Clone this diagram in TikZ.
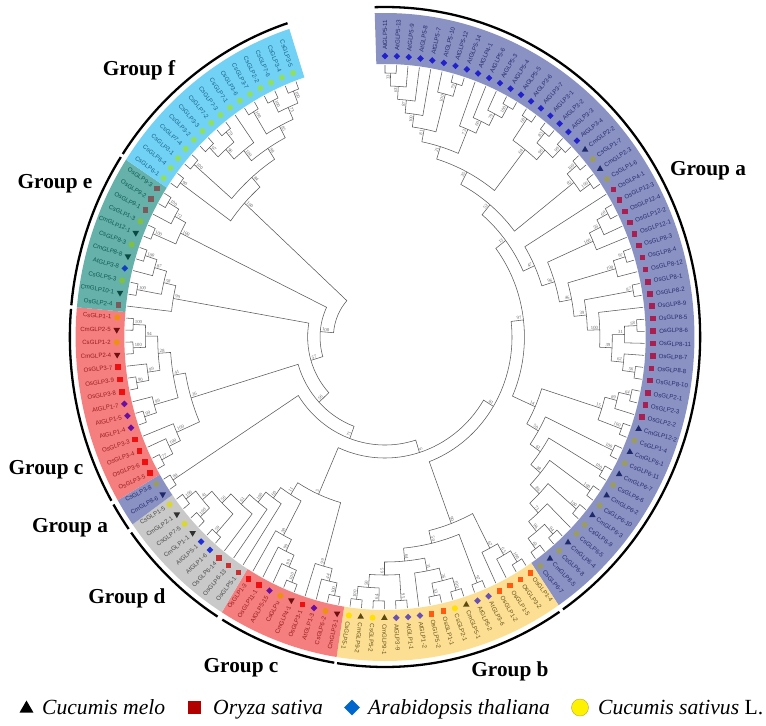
\documentclass[tikz,border=0pt]{standalone}
\usepackage{fontspec}
\setmainfont{Liberation Serif}
\newfontfamily\tipfont{Liberation Sans}
\usetikzlibrary{shapes.geometric}
\definecolor{aBand}{HTML}{8A92C4}
\definecolor{bBand}{HTML}{FDDF94}
\definecolor{cBand}{HTML}{F57F7F}
\definecolor{dBand}{HTML}{C9C9C9}
\definecolor{eBand}{HTML}{66B1A9}
\definecolor{fBand}{HTML}{72D2F6}
\definecolor{aAt}{HTML}{2222CC}
\definecolor{aCm}{HTML}{1E2A6C}
\definecolor{aCs}{HTML}{9A9C62}
\definecolor{aOs}{HTML}{A82052}
\definecolor{bAt}{HTML}{6A50B0}
\definecolor{bCm}{HTML}{5C4A10}
\definecolor{bCs}{HTML}{FFE000}
\definecolor{bOs}{HTML}{FF5A10}
\definecolor{cAt}{HTML}{6A10A0}
\definecolor{cCm}{HTML}{701010}
\definecolor{cCs}{HTML}{F09010}
\definecolor{cOs}{HTML}{EE1010}
\definecolor{dAt}{HTML}{2030D8}
\definecolor{dCm}{HTML}{303030}
\definecolor{dCs}{HTML}{D8D830}
\definecolor{dOs}{HTML}{C83030}
\definecolor{eAt}{HTML}{1040C0}
\definecolor{eCm}{HTML}{0A4A45}
\definecolor{eCs}{HTML}{80C040}
\definecolor{eOs}{HTML}{7A5A5A}
\definecolor{fCs}{HTML}{90E060}
\definecolor{aTx}{HTML}{262B6A}
\definecolor{bTx}{HTML}{66551C}
\definecolor{cTx}{HTML}{9A1C1C}
\definecolor{dTx}{HTML}{4A4A4A}
\definecolor{eTx}{HTML}{0C5A53}
\definecolor{fTx}{HTML}{166488}
\tikzstyle{branch}=[draw=black!65,line width=0.55pt]
\tikzstyle{boot}=[inner sep=0.6pt,text=black!60,font=\fontsize{4.7}{5}\selectfont]
\tikzstyle{tiptext}=[inner sep=0pt,font=\tipfont\fontsize{6.1}{7}\selectfont]
\tikzstyle{tipOs}=[rectangle,inner sep=0pt,minimum size=5.6pt]
\tikzstyle{tipAt}=[diamond,inner sep=0pt,minimum size=6.8pt]
\tikzstyle{tipCm}=[regular polygon,regular polygon sides=3,inner sep=0pt,minimum size=7.6pt]
\tikzstyle{tipCs}=[circle,inner sep=0pt,minimum size=6pt]
\tikzstyle{grouplabel}=[inner sep=0pt,anchor=base,font=\bfseries\fontsize{21.3}{24}\selectfont]
\tikzstyle{legendtext}=[inner sep=0pt,anchor=base west,font=\itshape\fontsize{21.6}{24}\selectfont]
\newcount\tipno
\def\spread{2.537}
\newcommand{\clade}[5]{%
    \edef\angA{\csname ang#3\endcsname}%
    \edef\angB{\csname ang#4\endcsname}%
    \pgfmathsetmacro{\angM}{(\angA+\angB)/2}%
    \expandafter\xdef\csname ang#1\endcsname{\angM}%
    \coordinate (#1) at (\angM:#2);
    \draw[branch] (#3) -- (\angA:#2) arc[start angle=\angA,end angle=\angB,radius=#2] -- (#4);
    \ifdim\angM pt>-90pt
        \node[boot,rotate=\angM,anchor=south east] (b#1) at (\angM:#2-1) {#5};
    \else
        \pgfmathsetmacro{\rotM}{\angM+180}%
        \node[boot,rotate=\rotM,anchor=south west] (b#1) at (\angM:#2-1) {#5};
    \fi
}
\begin{document}
\begin{tikzpicture}[x=0.955pt,y=1pt]
    \begin{scope}[x=1pt,y=-1pt,shift={(-385,-333.5)}]
        \path[use as bounding box] (0,0) rectangle (766,722);
    \end{scope}
    \foreach \from/\upto/\col in {-0.75/57.5/aBand, 57.5/74.5/bBand, 74.5/83.5/cBand, 83.5/92.5/dBand, 92.5/94.5/aBand, 94.5/108.5/cBand, 108.5/119.5/eBand, 119.5/134.8/fBand} {
        \pgfmathsetmacro{\angS}{90-\spread*\from}
        \pgfmathsetmacro{\angE}{90-\spread*\upto}
        \fill[\col] (\angS:273) arc[start angle=\angS,end angle=\angE,radius=273] -- (\angE:324) arc[start angle=\angE,end angle=\angS,radius=324] -- cycle;
    }
    \foreach \from/\upto in {-0.75/57.4, 57.7/74.4, 74.6/83.2, 83.6/92.1, 92.4/94.4, 94.7/108.35, 108.6/119.45, 119.7/134.8} {
        \pgfmathsetmacro{\angS}{90-\spread*\from}
        \pgfmathsetmacro{\angE}{90-\spread*\upto}
        \draw[line width=2.3pt] (\angS:330) arc[start angle=\angS,end angle=\angE,radius=330];
    }
    \foreach \grp/\items in {
        a/{AtGLP5-11/At,AtGLP5-13/At,AtGLP5-9/At,AtGLP5-8/At,AtGLP5-7/At,AtGLP5-10/At,AtGLP5-12/At,AtGLP5-14/At,AtGLP4-1/At,AtGLP5-6/At,AtGLP5-3/At,AtGLP5-4/At,AtGLP5-5/At,AtGLP3-6/At,AtGLP3-7/At,AtGLP3-1/At,AtGLP3-2/At,AtGLP3-3/At,AtGLP3-4/At,CmGLP2-2/Cm,CsGLP1-7/Cs,CmGLP2-3/Cm,CsGLP1-6/Cs,OsGLP4-1/Os,OsGLP12-3/Os,OsGLP12-4/Os,OsGLP12-2/Os,OsGLP12-1/Os,OsGLP8-3/Os,OsGLP8-4/Os,OsGLP8-12/Os,OsGLP8-1/Os,OsGLP8-2/Os,OsGLP8-9/Os,OsGLP8-5/Os,OsGLP8-6/Os,OsGLP8-11/Os,OsGLP8-7/Os,OsGLP8-8/Os,OsGLP8-10/Os,OsGLP2-1/Os,OsGLP2-3/Os,OsGLP2-2/Os,CmGLP12-2/Cm,CsGLP1-4/Cs,CmGLP6-1/Cm,CsGLP6-11/Cs,CmGLP6-7/Cm,CsGLP6-6/Cs,CmGLP6-2/Cm,CsGLP6-10/Cs,CmGLP6-3/Cm,CsGLP6-9/Cs,CsGLP6-5/Cs,CmGLP6-4/Cm,CsGLP6-8/Cs,CmGLP8-5/Cm,CsGLP6-7/Cs},
        b/{OsGLP1-4/Os,OsGLP3-2/Os,OsGLP1-5/Os,OsGLP1-2/Os,AtGLP3-6/At,AtGLP5-2/At,CmGLP5-1/Cm,CsGLP2-1/Cs,OsGLP1-1/Os,OsGLP5-2/Os,AtGLP1-2/At,AtGLP1-1/At,AtGLP3-9/At,CmGLP9-1/Cm,CsGLP5-2/Cs,CmGLP9-2/Cm,CsGLP5-1/Cs},
        c/{CmGLP3-1/Cm,CsGLP6-2/Cs,AtGLP1-3/At,OsGLP3-1/Os,CmGLP4-1/Cm,CsGLPu/Cs,AtGLP5-15/At,OsGLP11-1/Os,OsGLP1-3/Os},
        d/{OsGLP5-1/Os,OsGLP6-13/Os,OsGLP6-14/Os,AtGLP1-6/At,AtGLP5-1/At,CmGLP1-1/Cm,CsGLP7-5/Cs,CmGLP2-1/Cm,CsGLP1-5/Cs},
        a/{CmGLP8-6/Cm,CsGLP3-8/Cs},
        c/{OsGLP3-5/Os,OsGLP3-6/Os,OsGLP3-4/Os,OsGLP3-3/Os,AtGLP1-4/At,AtGLP1-5/At,AtGLP1-7/At,OsGLP3-8/Os,OsGLP3-9/Os,OsGLP3-7/Os,CmGLP2-4/Cm,CsGLP1-2/Cs,CmGLP2-5/Cm,CsGLP1-1/Cs},
        e/{OsGLP2-4/Os,CmGLP10-1/Cm,CsGLP5-3/Cs,AtGLP3-8/At,CmGLP8-8/Cm,CsGLP8-3/Cs,CmGLP12-1/Cm,CsGLP1-3/Cs,OsGLP9-1/Os,OsGLP9-2/Os,OsGLP9-3/Os},
        f/{CsGLP6-1/Cs,CsGLP6-4/Cs,CsGLP3-1/Cs,CsGLP7-4/Cs,CsGLP3-2/Cs,CsGLP3-3/Cs,CsGLP7-2/Cs,CsGLP7-3/Cs,CsGLP7-1/Cs,CsGLP3-6/Cs,CsGLP3-7/Cs,CsGLP2-2/Cs,CsGLP7-6/Cs,CsGLP3-4/Cs,CsGLP3-5/Cs}} {
        \foreach \txt/\kind in \items {
            \pgfmathsetmacro{\angT}{90-\spread*\the\tipno}
            \expandafter\xdef\csname angl\the\tipno\endcsname{\angT}
            \coordinate (l\the\tipno) at (\angT:272);
            \ifnum\tipno<108 \def\tilt{0.82}\else \def\tilt{1.08}\fi
            \pgfmathsetmacro{\rot}{atan2(\tilt*sin(\angT),cos(\angT))}
            \ifnum\tipno<75
                \def\turn{0}\def\side{west}
            \else
                \def\turn{180}\pgfmathsetmacro{\rot}{\rot+180}\def\side{east}
            \fi
            \node[tip\kind,fill=\grp\kind,shape border rotate=\turn] (mk\the\tipno) at (\angT:281) {};
            \node[tiptext,text=\grp Tx,rotate=\rot,anchor=\side] (lab\the\tipno) at (\angT:287) {\txt};
            \global\advance\tipno by 1
        }
    }
    \clade{p1}{264}{l0}{l1}{33}
    \clade{p2}{251}{p1}{l2}{63}
    \clade{p3}{238}{p2}{l3}{87}
    \clade{p4}{225}{p3}{l4}{100}
    \clade{p5}{264}{l6}{l7}{79}
    \clade{p6}{251}{l5}{p5}{100}
    \clade{p7}{212}{p4}{p6}{81}
    \clade{p8}{264}{l11}{l12}{100}
    \clade{p9}{251}{l10}{p8}{79}
    \clade{p10}{238}{l9}{p9}{60}
    \clade{p11}{225}{l8}{p10}{73}
    \clade{p12}{199}{p7}{p11}{21}
    \clade{p13}{264}{l13}{l14}{68}
    \clade{p14}{264}{l15}{l16}{83}
    \clade{p15}{264}{l17}{l18}{99}
    \clade{p16}{251}{p14}{p15}{96}
    \clade{p17}{238}{p13}{p16}{64}
    \clade{p18}{186}{p12}{p17}{35}
    \clade{q1}{264}{l19}{l20}{100}
    \clade{q2}{264}{l21}{l22}{100}
    \clade{q3}{251}{q1}{q2}{82}
    \clade{q4}{172}{p18}{q3}{52}
    \clade{r1}{264}{l24}{l25}{60}
    \clade{r2}{251}{r1}{l26}{56}
    \clade{r3}{238}{r2}{l27}{100}
    \clade{r4}{264}{l28}{l29}{97}
    \clade{r5}{251}{r4}{l30}{100}
    \clade{r6}{264}{l31}{l32}{87}
    \clade{r7}{264}{l34}{l35}{58}
    \clade{r8}{251}{r7}{l36}{31}
    \clade{r9}{264}{l38}{l39}{56}
    \clade{r10}{251}{l37}{r9}{62}
    \clade{r11}{238}{r8}{r10}{39}
    \clade{r12}{225}{l33}{r11}{100}
    \clade{r13}{212}{r6}{r12}{39}
    \clade{r14}{199}{r5}{r13}{46}
    \clade{r15}{186}{r3}{r14}{96}
    \clade{r16}{172}{l23}{r15}{47}
    \clade{r17}{159}{q4}{r16}{13}
    \clade{s1}{264}{l40}{l41}{64}
    \clade{s2}{251}{s1}{l42}{89}
    \clade{s3}{264}{l43}{l44}{100}
    \clade{s4}{238}{s2}{s3}{15}
    \clade{s5}{264}{l45}{l46}{100}
    \clade{s6}{264}{l47}{l48}{100}
    \clade{s7}{264}{l49}{l50}{100}
    \clade{s8}{264}{l51}{l52}{100}
    \clade{s9}{264}{l54}{l55}{94}
    \clade{s10}{264}{l56}{l57}{63}
    \clade{s11}{251}{s9}{s10}{96}
    \clade{s12}{238}{l53}{s11}{71}
    \clade{s13}{225}{s8}{s12}{86}
    \clade{s14}{212}{s7}{s13}{38}
    \clade{s15}{199}{s6}{s14}{61}
    \clade{s16}{186}{s5}{s15}{50}
    \clade{s17}{172}{s4}{s16}{14}
    \clade{t1}{146}{r17}{s17}{97}
    \clade{u1}{264}{l58}{l59}{100}
    \clade{u2}{251}{l60}{u1}{65}
    \clade{u3}{238}{l61}{u2}{67}
    \clade{u4}{264}{l62}{l63}{97}
    \clade{u5}{264}{l64}{l65}{100}
    \clade{u6}{264}{l66}{l67}{53}
    \clade{u7}{251}{u5}{u6}{26}
    \clade{u8}{238}{u7}{l68}{31}
    \clade{u9}{264}{l69}{l70}{95}
    \clade{u10}{264}{l71}{l72}{64}
    \clade{u11}{264}{l73}{l74}{100}
    \clade{u12}{251}{u10}{u11}{50}
    \clade{u13}{238}{u9}{u12}{65}
    \clade{u14}{225}{u8}{u13}{64}
    \clade{u15}{212}{u4}{u14}{50}
    \clade{u16}{199}{u3}{u15}{90}
    \clade{t2}{133}{t1}{u16}{81}
    \clade{v1}{264}{l75}{l76}{100}
    \clade{v2}{251}{v1}{l77}{44}
    \clade{v3}{238}{v2}{l78}{99}
    \clade{v4}{264}{l79}{l80}{100}
    \clade{v5}{251}{v4}{l81}{99}
    \clade{v6}{238}{v5}{l82}{99}
    \clade{v7}{225}{v6}{l83}{38}
    \clade{w1}{264}{l87}{l88}{59}
    \clade{w2}{264}{l89}{l90}{100}
    \clade{w3}{264}{l91}{l92}{100}
    \clade{w4}{251}{w2}{w3}{41}
    \clade{w5}{238}{w1}{w4}{56}
    \clade{w6}{225}{l86}{w5}{61}
    \clade{w7}{212}{l85}{w6}{100}
    \clade{w8}{199}{l84}{w7}{60}
    \clade{w9}{186}{v7}{w8}{11}
    \clade{w10}{172}{v3}{w9}{5}
    \clade{t3}{121}{t2}{w10}{6}
    \clade{x1}{264}{l93}{l94}{99}
    \clade{t4}{108}{t3}{x1}{71}
    \clade{y1}{264}{l95}{l96}{77}
    \clade{y2}{251}{y1}{l97}{100}
    \clade{y3}{238}{y2}{l98}{100}
    \clade{y4}{264}{l99}{l100}{99}
    \clade{y5}{251}{y4}{l101}{99}
    \clade{y6}{264}{l102}{l103}{90}
    \clade{y7}{251}{y6}{l104}{99}
    \clade{y8}{264}{l105}{l106}{100}
    \clade{y9}{264}{l107}{l108}{100}
    \clade{y10}{251}{y8}{y9}{94}
    \clade{y11}{238}{y7}{y10}{28}
    \clade{y12}{225}{y5}{y11}{41}
    \clade{y13}{212}{y3}{y12}{36}
    \clade{t5}{95}{t4}{y13}{56}
    \clade{z1}{264}{l110}{l111}{100}
    \clade{z2}{264}{l113}{l114}{100}
    \clade{z3}{251}{l112}{z2}{87}
    \clade{z4}{238}{z1}{z3}{58}
    \clade{z5}{225}{l109}{z4}{99}
    \clade{t6}{81}{t5}{z5}{57}
    \clade{z6}{264}{l115}{l116}{100}
    \clade{z7}{264}{l118}{l119}{100}
    \clade{z8}{251}{l117}{z7}{72}
    \clade{z9}{238}{z6}{z8}{100}
    \clade{t7}{68}{t6}{z9}{100}
    \clade{f1}{264}{l120}{l121}{90}
    \clade{f2}{264}{l122}{l123}{100}
    \clade{f3}{264}{l124}{l125}{97}
    \clade{f4}{264}{l126}{l127}{79}
    \clade{f5}{251}{f3}{f4}{96}
    \clade{f6}{238}{f5}{l128}{100}
    \clade{f7}{264}{l129}{l130}{100}
    \clade{f8}{264}{l131}{l132}{100}
    \clade{f9}{264}{l133}{l134}{100}
    \clade{f10}{251}{f8}{f9}{73}
    \clade{f11}{238}{f7}{f10}{85}
    \clade{f12}{225}{f6}{f11}{98}
    \clade{f13}{212}{f2}{f12}{84}
    \clade{f14}{199}{f1}{f13}{100}
    \clade{t8}{54}{t7}{f14}{}
    \begin{scope}[x=1pt,y=-1pt,shift={(-385,-333.5)}]
        \foreach \n/\px/\py/\g in {ga/708/172/a, gb/510/673/b, gc/241/669/c, gd/127/600/d, gaa/70/529/a, gcc/46/471/c, ge/55/185/e, gf/139/72/f}
            \node[grouplabel] (\n) at (\px,\py) {Group \g};
        \node[tipCm,fill=black,minimum size=16pt] (legcm) at (26.5,705) {};
        \node[legendtext] (tcm) at (42,711) {Cucumis melo};
        \node[tipOs,fill=red!70!black,minimum size=13pt] (legos) at (194.5,704) {};
        \node[legendtext] (tos) at (213,711) {Oryza sativa};
        \node[tipAt,fill=blue!50!cyan!80!black,minimum size=16pt] (legat) at (352,704) {};
        \node[legendtext] (tat) at (368,711) {Arabidopsis thaliana};
        \node[tipCs,fill=yellow,draw=olive!70,minimum size=17pt] (legcs) at (580,704) {};
        \node[legendtext] (tcs) at (598,711) {Cucumis sativus \textup{L.}};
    \end{scope}
\end{tikzpicture}
\end{document}
